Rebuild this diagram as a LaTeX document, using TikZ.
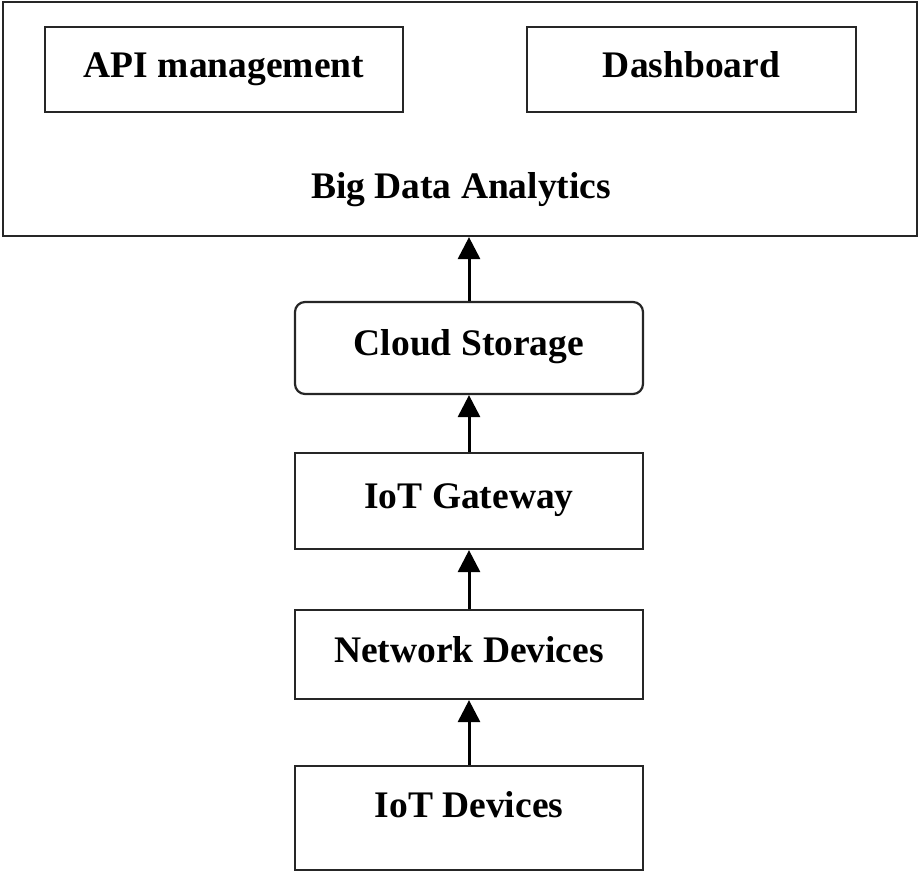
\documentclass[tikz,border=0pt]{standalone}
\usepackage{fontspec}
\setmainfont{Liberation Serif}
\usetikzlibrary{arrows.meta}
\begin{document}
\begin{tikzpicture}[x=0.5pt,y=-0.5pt,
    layerbox/.style={draw=black!85, line width=1.1pt, minimum width=174pt,
      text height=12.5pt, text depth=5pt,
      font=\fontsize{18.75}{22}\selectfont\bfseries},
    upflow/.style={line width=1.5pt, -{Triangle[width=11pt,length=11pt]}}]
      \useasboundingbox (0,0) rectangle (922,873);
      % analytics frame
      \node[layerbox, minimum width=457pt, minimum height=117pt] (bigdata) at (460,119) {};
      \node[layerbox, draw=none] (bda) at (461,191) {Big Data Analytics};
      \node[layerbox, minimum width=179pt, minimum height=42.5pt] (api) at (224,69.5) {API management};
      \node[layerbox, minimum width=164.5pt, minimum height=42.5pt] (dash) at (691.5,69.5) {Dashboard};
      % stack of layers
      \node[layerbox, rounded corners=5pt, minimum height=46pt] (cloud) at (469,348) {Cloud Storage};
      \node[layerbox, minimum height=48pt] (gateway) at (469,501) {IoT Gateway};
      \node[layerbox, minimum height=44.5pt] (network) at (469,654.5) {Network Devices};
      \node[layerbox, minimum height=52pt, text depth=13pt] (devices) at (469,818) {IoT Devices};
      % arrows
      \draw[upflow] (devices) -- (network);
      \draw[upflow] (network) -- (gateway);
      \draw[upflow] (gateway) -- (cloud);
      \draw[upflow] (cloud.north) -- (cloud.north |- bigdata.south);
\end{tikzpicture}
\end{document}
